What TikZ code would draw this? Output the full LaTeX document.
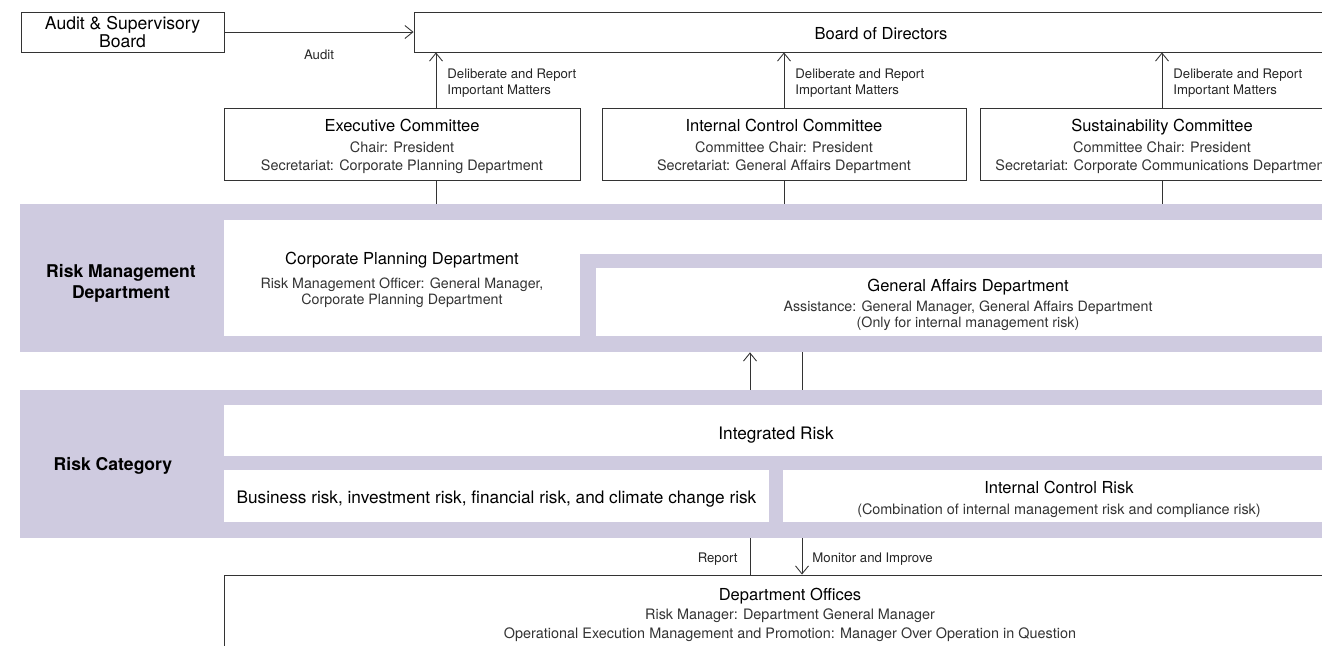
\documentclass[tikz,border=0pt]{standalone}
\usepackage{fontspec}
\setmainfont{TeX Gyre Heros}
\usetikzlibrary{positioning,arrows.meta}

\definecolor{lavender}{RGB}{207,203,224}

\newcommand{\titlefont}{\fontsize{9.4}{11}\selectfont}
\newcommand{\subfont}{\fontsize{8.2}{10.6}\selectfont}
\newcommand{\notefont}{\fontsize{7.5}{9.1}\selectfont}
\newcommand{\headfont}{\fontsize{10}{12}\selectfont\bfseries}
\newcommand{\padtop}[1]{\rule{0pt}{#1}}

\tikzstyle{box} = [rectangle, draw=black!80, line width=0.5pt, fill=white, inner sep=0pt, align=center, font=\subfont, text=black!80]
\tikzstyle{band} = [rectangle, fill=lavender, inner sep=0pt]
\tikzstyle{whitebox} = [rectangle, fill=white, inner sep=0pt, align=center, font=\subfont, text=black!80]
\tikzstyle{head} = [align=center, font=\headfont, inner sep=0pt]
\tikzstyle{note} = [align=left, font=\notefont, text=black!85, inner sep=0pt]
\tikzstyle{line} = [line width=0.5pt, draw=black!80]
\tikzstyle{arrow} = [line width=0.5pt, draw=black!80, -{Straight Barb[length=1.6mm,width=2.6mm]}]

\begin{document}
\begin{tikzpicture}[x=0.2mm, y=-0.2mm]
        \useasboundingbox (0,0) rectangle (1322,646);
        \clip (0,0) rectangle (1322,646);

        % top row
        \node (audit) [box, minimum width=40.6mm, minimum height=8mm, font=\fontsize{10}{10.4}\selectfont, text=black] at (122.5,32) {Audit \& Supervisory\\Board};
        \node (board) [box, minimum width=186.8mm, minimum height=8mm, text=black] at (881,32) {\titlefont\padtop{9.1pt}Board of Directors};

        % committees
        \node (exec) [box, minimum width=71.2mm, minimum height=14.4mm] at (402,144) {{\titlefont\color{black}\padtop{10.3pt}Executive Committee}\\[1pt]Chair: President\\Secretariat: Corporate Planning Department};
        \node (icc) [box, minimum width=72.8mm, minimum height=14.4mm] at (784,144) {{\titlefont\color{black}\padtop{10.3pt}Internal Control Committee}\\[1pt]Committee Chair: President\\Secretariat: General Affairs Department};
        \node (sust) [box, minimum width=72.8mm, minimum height=14.4mm] at (1162,144) {{\titlefont\color{black}\padtop{10.3pt}Sustainability Committee}\\[1pt]Committee Chair: President\\Secretariat: Corporate Communications Department};

        % risk management department
        \node (rmband) [band, minimum width=264mm, minimum height=29.6mm] at (680,278) {};
        \node (rmlabel) [head] at (121,283) {Risk Management\\Department};
        \node (cparea) [whitebox, minimum width=223.2mm, minimum height=23.2mm] at (782,278) {};
        \node (gaframe) [band, minimum width=152mm, minimum height=19.6mm] at (960,303) {};
        \node (cpd) [whitebox, font=\fontsize{8.1}{9.2}\selectfont] at (402,280) {{\titlefont\color{black} Corporate Planning Department}\\[4.4pt]Risk Management Officer: General Manager,\\Corporate Planning Department};
        \node (ga) [whitebox, minimum width=148.8mm, minimum height=13.6mm, font=\fontsize{8.1}{9.2}\selectfont] at (968,302) {{\titlefont\color{black}\padtop{10.3pt}General Affairs Department}\\[2.4pt]Assistance: General Manager, General Affairs Department\\(Only for internal management risk)};

        % risk category
        \node (rcband) [band, minimum width=264mm, minimum height=29.6mm] at (680,464) {};
        \node (rclabel) [head] at (113,466) {Risk Category};
        \node (integ) [whitebox, minimum width=220.8mm, minimum height=10.2mm, font=\fontsize{9.8}{11}\selectfont, text=black] at (776,430.5) {\padtop{12.3pt}Integrated Risk};
        \node (busi) [whitebox, minimum width=109mm, minimum height=10.4mm, font=\fontsize{9.8}{11}\selectfont, text=black] at (496.5,496) {\padtop{10.6pt}Business risk, investment risk, financial risk, and climate change risk};
        \node (icr) [whitebox, minimum width=110.4mm, minimum height=10.4mm] at (1059,496) {{\titlefont\color{black}\padtop{10.9pt}Internal Control Risk}\\[1.5pt](Combination of internal management risk and compliance risk)};

        % department offices
        \node (offices) [box, minimum width=226.4mm, minimum height=15.2mm] at (790,613) {{\titlefont\color{black}\padtop{9.1pt}Department Offices}\\[0pt]Risk Manager: Department General Manager\\Operational Execution Management and Promotion: Manager Over Operation in Question};

        \coordinate (execx) at (436,0);
        \coordinate (upx) at (750,0);
        \coordinate (downx) at (802,0);

        % connectors
        \draw [arrow] (audit) -- node[note, below=3.4mm] {Audit} (board);
        \draw [arrow] (execx |- exec.north) -- node[note, right=2.2mm, yshift=-0.6mm] {Deliberate and Report\\Important Matters} (execx |- board.south);
        \draw [arrow] (icc.north) -- node[note, right=2.2mm, yshift=-0.6mm] {Deliberate and Report\\Important Matters} (icc.north |- board.south);
        \draw [arrow] (sust.north) -- node[note, right=2.2mm, yshift=-0.6mm] {Deliberate and Report\\Important Matters} (sust.north |- board.south);
        \draw [line] (execx |- exec.south) -- (execx |- rmband.north);
        \draw [line] (icc.south) -- (icc.south |- rmband.north);
        \draw [line] (sust.south) -- (sust.south |- rmband.north);

        \draw [arrow] (upx |- rcband.north) -- (upx |- rmband.south);
        \draw [line] (downx |- rmband.south) -- (downx |- rcband.north);
        \draw [line] (upx |- offices.north) -- node[note, left=2.4mm, yshift=-0.6mm] {Report} (upx |- rcband.south);
        \draw [arrow] (downx |- rcband.south) -- node[note, right=2mm, yshift=-0.6mm] {Monitor and Improve} (downx |- offices.north);
    \end{tikzpicture}
\end{document}
